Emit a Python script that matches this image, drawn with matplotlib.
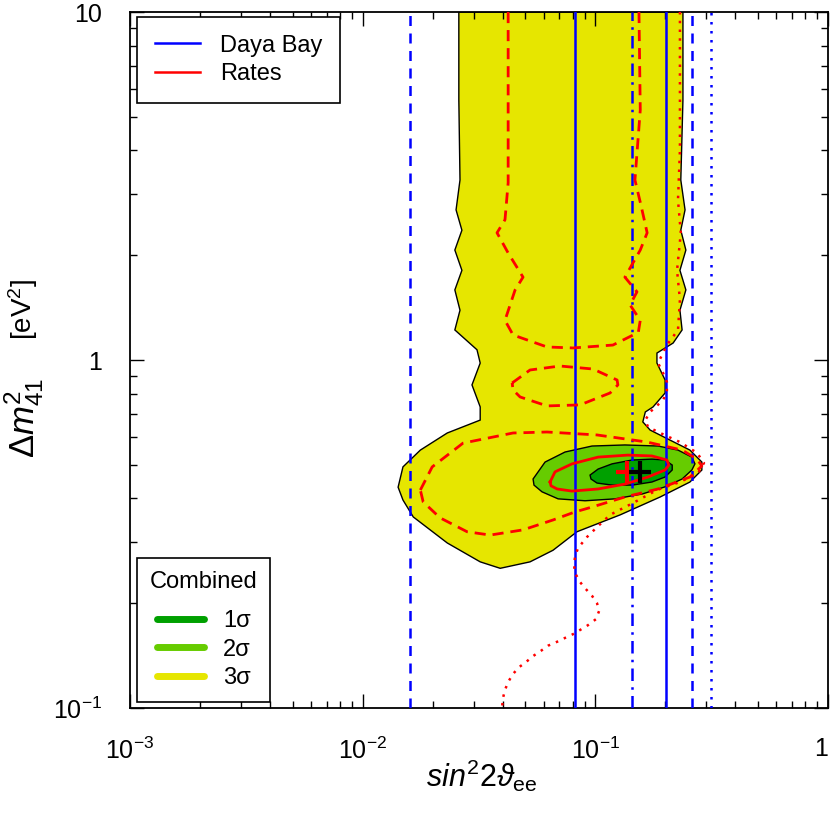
import numpy as np
import matplotlib.pyplot as plt
from matplotlib.lines import Line2D

plt.rcParams['font.family'] = ['Liberation Sans', 'DejaVu Sans']
plt.rcParams['mathtext.fontset'] = 'custom'
plt.rcParams['mathtext.rm'] = 'Liberation Sans'
plt.rcParams['mathtext.it'] = 'Liberation Sans:italic'
plt.rcParams['mathtext.bf'] = 'Liberation Sans:bold'

# combined fit, 3 sigma region (sin^2 2theta_ee, dm^2_41)
c3_s2 = [0.0259, 0.0259, 0.0262, 0.0252, 0.0267, 0.0249, 0.0267, 0.0249, 0.0262, 0.0249,
         0.0310, 0.0320, 0.0295, 0.0320, 0.0320, 0.0231, 0.0177, 0.0149, 0.0142, 0.0149,
         0.0165, 0.0231, 0.0320, 0.0390, 0.0524, 0.0658, 0.0834, 0.128, 0.190, 0.255,
         0.287, 0.287, 0.255, 0.209, 0.172, 0.160, 0.164, 0.177, 0.1995, 0.1995,
         0.184, 0.184, 0.216, 0.236, 0.231, 0.245, 0.231, 0.245, 0.233, 0.243,
         0.233, 0.238, 0.238]
c3_dm = [10, 5.59, 3.29, 2.70, 2.36, 2.07, 1.81, 1.59, 1.39, 1.22,
         1.07, 0.980, 0.848, 0.733, 0.672, 0.617, 0.551, 0.493, 0.431, 0.396,
         0.354, 0.298, 0.263, 0.252, 0.263, 0.284, 0.321, 0.359, 0.404, 0.446,
         0.483, 0.509, 0.551, 0.589, 0.629, 0.664, 0.709, 0.733, 0.804, 0.876,
         0.980, 1.047, 1.119, 1.22, 1.39, 1.59, 1.81, 2.07, 2.36, 2.70,
         3.29, 5.59, 10]

# 2 sigma region
c2_s2 = [0.0540, 0.0608, 0.0741, 0.0968, 0.134, 0.186, 0.2266, 0.260, 0.268, 0.260,
         0.236, 0.1993, 0.159, 0.1215, 0.0903, 0.0692, 0.0590, 0.0545]
c2_dm = [0.455, 0.509, 0.544, 0.566, 0.570, 0.566, 0.551, 0.526, 0.503, 0.483,
         0.455, 0.432, 0.412, 0.399, 0.394, 0.399, 0.418, 0.437]

# 1 sigma region
c1_s2 = [0.0949, 0.1028, 0.118, 0.144, 0.175, 0.1993, 0.214, 0.214, 0.1993, 0.175,
         0.144, 0.118, 0.1017, 0.0958]
c1_dm = [0.467, 0.486, 0.503, 0.516, 0.519, 0.516, 0.499, 0.483, 0.461, 0.446,
         0.437, 0.437, 0.443, 0.455]

# rates only: 1 sigma (solid)
r1_s2 = [0.0639, 0.0671, 0.0794, 0.1028, 0.138, 0.175, 0.203, 0.207, 0.1993, 0.1684,
         0.134, 0.1028, 0.0794, 0.0685, 0.0645, 0.0639]
r1_dm = [0.446, 0.477, 0.503, 0.526, 0.533, 0.530, 0.516, 0.499, 0.483, 0.461,
         0.440, 0.426, 0.420, 0.426, 0.435, 0.446]

# rates only: 2 sigma (dashed), three pieces
r2a_s2 = [0.0177, 0.0199, 0.0270, 0.0443, 0.0620, 0.1017, 0.167, 0.236, 0.2735, 0.287,
          0.255, 0.186, 0.134, 0.0968, 0.0818, 0.0658, 0.0489, 0.0353, 0.0281, 0.0215,
          0.0182, 0.0177]
r2a_dm = [0.423, 0.493, 0.577, 0.617, 0.621, 0.609, 0.581, 0.551, 0.519, 0.496,
          0.461, 0.426, 0.404, 0.378, 0.366, 0.347, 0.325, 0.314, 0.321, 0.352,
          0.391, 0.423]
r2b_s2 = [0.0439, 0.0524, 0.0705, 0.0978, 0.124, 0.125, 0.1157, 0.0860, 0.0620, 0.0475,
          0.0443, 0.0439]
r2b_dm = [0.859, 0.936, 0.961, 0.942, 0.876, 0.848, 0.804, 0.743, 0.738, 0.783,
          0.820, 0.859]
r2c_s2 = [0.0422, 0.0422, 0.0422, 0.0409, 0.0378, 0.0422, 0.0489, 0.0452, 0.0409, 0.0443,
          0.0620, 0.0802, 0.119, 0.153, 0.156, 0.141, 0.151, 0.134, 0.156, 0.167,
          0.157, 0.148, 0.156, 0.154]
r2c_dm = [10, 5.59, 3.23, 2.53, 2.32, 2.03, 1.73, 1.59, 1.30, 1.18,
          1.09, 1.083, 1.104, 1.20, 1.30, 1.44, 1.57, 1.73, 2.07, 2.32,
          2.79, 3.29, 5.23, 10]

# rates only: 3 sigma (dotted)
r3_s2 = [0.231, 0.231, 0.2266, 0.233, 0.2245, 0.231, 0.2266, 0.203, 0.186, 0.1954,
         0.203, 0.203, 0.1954, 0.172, 0.164, 0.1684, 0.190, 0.231, 0.2735, 0.293,
         0.2765, 0.231, 0.184, 0.145, 0.1157, 0.1017, 0.0921, 0.0842, 0.0818, 0.0810,
         0.0818, 0.0860, 0.0903, 0.0968, 0.1017, 0.1038, 0.1006, 0.0930, 0.0860, 0.0802,
         0.0741, 0.0685, 0.0626, 0.0584, 0.0540, 0.0504, 0.0470, 0.0443, 0.0422, 0.0409,
         0.0401, 0.0397]
r3_dm = [10, 4.01, 2.88, 2.32, 1.81, 1.49, 1.22, 1.104, 0.980, 0.918,
         0.865, 0.809, 0.767, 0.709, 0.672, 0.642, 0.617, 0.581, 0.541, 0.506,
         0.473, 0.446, 0.423, 0.388, 0.359, 0.331, 0.310, 0.288, 0.272, 0.2576,
         0.2443, 0.230, 0.221, 0.210, 0.200, 0.190, 0.180, 0.173, 0.1676, 0.163,
         0.159, 0.155, 0.151, 0.146, 0.141, 0.1356, 0.131, 0.1253, 0.1188, 0.1127,
         0.1069, 0.1]

# Daya Bay limits
db_solid = [0.0818, 0.201]
db_dashdot = [0.144]
db_dashed = [0.0160, 0.260]
db_dotted = [0.314]

# best fit points
bf_rates = (0.137, 0.477)
bf_comb = (0.156, 0.477)

c_1s = '#00a000'
c_2s = '#66cc00'
c_3s = '#e6e600'

fig = plt.figure(figsize=(8.3, 8.17), dpi=100)
ax = fig.add_axes([130/830, 1-708/817, 698/830, 696/817])

ax.fill(c3_s2, c3_dm, facecolor=c_3s, edgecolor='black', lw=1.0, zorder=1)
ax.fill(c2_s2, c2_dm, facecolor=c_2s, edgecolor='black', lw=1.0, zorder=2)
ax.fill(c1_s2, c1_dm, facecolor=c_1s, edgecolor='black', lw=1.0, zorder=3)

for xv in db_solid:
    ax.axvline(xv, color='blue', lw=1.8, zorder=4)
for xv in db_dashdot:
    ax.axvline(xv, color='blue', lw=1.8, ls=(0, (5, 2.5, 1, 2.5)), zorder=4)
for xv in db_dashed:
    ax.axvline(xv, color='blue', lw=1.8, ls=(0, (4, 3)), zorder=4)
for xv in db_dotted:
    ax.axvline(xv, color='blue', lw=1.8, ls=(0, (1, 2.6)), zorder=4)

ax.plot(r1_s2, r1_dm, color='red', lw=2.0, zorder=5)
dash = (0, (4, 2.5))
ax.plot(r2a_s2, r2a_dm, color='red', lw=2.0, ls=dash, zorder=5)
ax.plot(r2b_s2, r2b_dm, color='red', lw=2.0, ls=dash, zorder=5)
ax.plot(r2c_s2, r2c_dm, color='red', lw=2.0, ls=dash, zorder=5)
ax.plot(r3_s2, r3_dm, color='red', lw=1.8, ls=(0, (1, 2.5)), zorder=5)

ax.plot(*bf_rates, marker='+', color='red', ms=16, mew=3.0, zorder=6)
ax.plot(*bf_comb, marker='+', color='black', ms=16, mew=3.0, zorder=6)

ax.set_xscale('log')
ax.set_yscale('log')
ax.set_xlim(1e-3, 1)
ax.set_ylim(0.1, 10)
ax.set_xticks([1e-3, 1e-2, 1e-1, 1], labels=[r'$10^{-3}$', r'$10^{-2}$', r'$10^{-1}$', '1'])
ax.set_yticks([0.1, 1, 10], labels=[r'$10^{-1}$', '1', '10'])
ax.get_xticklabels()[-1].set_ha('right')
ax.tick_params(which='both', direction='in', top=True, right=True, width=1.0)
ax.tick_params(which='major', length=10, labelsize=18)
ax.tick_params(axis='x', which='major', pad=21)
ax.tick_params(axis='y', which='major', pad=20)
ax.tick_params(which='minor', length=5)
for sp in ax.spines.values():
    sp.set_linewidth(1.3)

fig.text(482/830, 1-776/817, r'$\mathit{sin}^{2}2\vartheta_{\mathrm{ee}}$',
         fontsize=22, ha='center', va='center')
fig.text(24/830, 1-418/817, r'$\Delta m^{2}_{41}$',
         fontsize=25, rotation=90, ha='center', va='center')
fig.text(23/830, 1-309/817, r'[eV$^{2}$]',
         fontsize=20, rotation=90, ha='center', va='center')

h_top = [Line2D([], [], color='blue', lw=1.8), Line2D([], [], color='red', lw=1.8)]
leg1 = ax.legend(h_top, ['Daya Bay', 'Rates'], loc='upper left',
                 bbox_to_anchor=(7/698, 1-5/696), borderaxespad=0, fontsize=17,
                 frameon=True, fancybox=False, edgecolor='black', framealpha=1,
                 handlelength=1.9, handletextpad=0.85, borderpad=0.75, labelspacing=0.275)
leg1.get_frame().set_linewidth(1.2)
ax.add_artist(leg1)

h_bot = [Line2D([], [], color=c, lw=5, solid_capstyle='round') for c in (c_1s, c_2s, c_3s)]
leg2 = ax.legend(h_bot, ['1σ', '2σ', '3σ'], title='Combined\n', title_fontsize=17,
                 loc='lower left', bbox_to_anchor=(7/698, 6/696), borderaxespad=0,
                 fontsize=17, frameon=True, fancybox=False, edgecolor='black',
                 framealpha=1, handlelength=2.0, handletextpad=0.8, borderpad=0.54,
                 labelspacing=0.275)
leg2.get_title().set_linespacing(0.33)
leg2.get_frame().set_linewidth(1.2)

fig.savefig('out.png', dpi=100)
